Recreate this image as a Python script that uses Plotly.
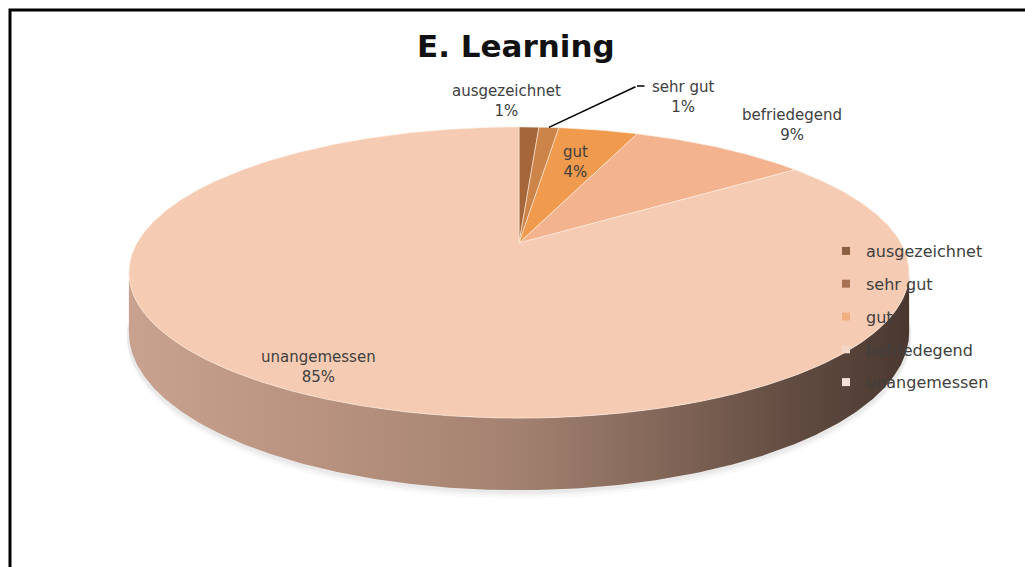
import math
import plotly.graph_objects as go

# ---------------- data ----------------
categories = ["ausgezeichnet", "sehr gut", "gut", "befriedegend", "unangemessen"]
values = [1, 1, 4, 9, 85]
slice_colors = ["#a5663a", "#cc8448", "#ef9a4c", "#f4b38f", "#f6cbb3"]
legend_colors = ["#8c5f43", "#a87256", "#f0b080", "#f5d5c5", "#f3e0da"]
title_text = "E. Learning"

# ---------------- layout / projection constants ----------------
W, H = 1025, 567
X0, Y0 = 519.0, 243.0     # screen position of pie centre
SX, SY = 382.0, 139.6     # screen scale of the disc
K = 0.203                 # perspective strength
DEPTH = 57.4              # disc thickness
FONT = "DejaVu Sans"
TXT = "#404040"


def proj(theta_deg, r=1.0, h=0.0):
    t = math.radians(theta_deg)
    X = r * math.sin(t)
    Z = r * math.cos(t)
    w = 1.0 + K * Z
    return X0 + SX * X / w, Y0 + (-SY * Z + DEPTH * h) / w


def arc(a0, a1, r=1.0, h=0.0, n=None):
    if n is None:
        n = max(4, int(abs(a1 - a0) * 2))
    pts = [proj(a0 + (a1 - a0) * i / n, r, h) for i in range(n + 1)]
    return [p[0] for p in pts], [p[1] for p in pts]


fig = go.Figure()

# soft shadow
tR = math.degrees(math.acos(-K))
tL = 360 - tR
for grow, alpha in [(1.10, 0.025), (1.06, 0.03), (1.03, 0.03)]:
    sx, sy = arc(tR - 4, tL + 4, 1.005, grow, 300)
    fig.add_trace(go.Scatter(x=sx, y=sy, fill="toself", mode="lines",
                             line=dict(width=0, color="rgba(0,0,0,0)"),
                             fillcolor=f"rgba(0,0,0,{alpha})", hoverinfo="skip",
                             showlegend=False))

# side band (front half of the disc)
tx, ty = arc(tR, tL, 1.0, 0.0, 300)
bx, by = arc(tL, tR, 1.0, 1.0, 300)
fig.add_trace(go.Scatter(
    x=tx + bx, y=ty + by, fill="toself", mode="lines",
    line=dict(width=0, color="rgba(0,0,0,0)"),
    fillgradient=dict(type="horizontal",
                      colorscale=[[0.0, "#c8a28e"], [0.25, "#b8927f"],
                                  [0.5, "#a38170"], [0.68, "#836759"],
                                  [0.85, "#624c41"], [1.0, "#4a3830"]]),
    hoverinfo="skip", showlegend=False))

# top face slices
total = float(sum(values))
start = 0.0
mids = []
for cat, val, col in zip(categories, values, slice_colors):
    span = 360.0 * val / total
    ax_, ay_ = arc(start, start + span)
    xs = [X0] + ax_ + [X0]
    ys = [Y0] + ay_ + [Y0]
    fig.add_trace(go.Scatter(x=xs, y=ys, fill="toself", mode="lines",
                             fillcolor=col,
                             line=dict(width=0.8, color="rgba(255,240,230,0.7)"),
                             name=cat, hoverinfo="name", showlegend=False))
    mids.append(start + span / 2)
    start += span

# legend entries
for i, (cat, col) in enumerate(zip(categories, legend_colors)):
    fig.add_trace(go.Scatter(x=[None], y=[None], mode="markers",
                             marker=dict(symbol="square", size=8, color=col),
                             name=cat, legendgroup=f"g{i}", showlegend=True))

# data labels (text positions chosen like Excel's best-fit placement)
label_pos = {
    "ausgezeichnet": (506, 101),
    "sehr gut": (683, 97),
    "gut": None,
    "befriedegend": (792, 125),
    "unangemessen": (318, 367),
}
for cat, val, mid in zip(categories, values, mids):
    txt = f"{cat}<br>{val}%"
    if label_pos[cat] is None:
        lx, ly = proj(mid, 0.68)
    else:
        lx, ly = label_pos[cat]
    fig.add_annotation(x=lx, y=ly, text=txt, showarrow=False,
                       font=dict(family=FONT, size=15, color=TXT),
                       align="center")

# leader line for "sehr gut"
px, py = proj(mids[1], 1.0)
fig.add_annotation(x=px, y=py, ax=637, ay=86, axref="x", ayref="y",
                   text="", showarrow=True, arrowhead=0, arrowwidth=1.5,
                   arrowcolor="#000000")
fig.add_annotation(x=637, y=86, ax=646, ay=86, axref="x", ayref="y",
                   text="", showarrow=True, arrowhead=0, arrowwidth=1.5,
                   arrowcolor="#000000")

# title
fig.add_annotation(x=516, y=46, text=f"<b>{title_text}</b>", showarrow=False,
                   font=dict(family=FONT, size=31, color="#111111"))

# frame
fig.add_shape(type="rect", xref="paper", yref="paper",
              x0=10 / W, x1=1.02, y0=-0.02, y1=1 - 10 / H,
              line=dict(color="#000000", width=3))

fig.update_layout(
    width=W, height=H,
    margin=dict(l=0, r=0, t=0, b=0),
    paper_bgcolor="white", plot_bgcolor="white",
    xaxis=dict(range=[0, W], visible=False, fixedrange=True),
    yaxis=dict(range=[H, 0], visible=False, fixedrange=True),
    showlegend=True,
    legend=dict(x=826 / W, y=1 - 234 / H, xanchor="left", yanchor="top",
                bgcolor="rgba(0,0,0,0)", traceorder="grouped",
                tracegroupgap=9, itemwidth=30,
                font=dict(family=FONT, size=16, color=TXT)),
)

fig.write_html("out.html",
               config={"displayModeBar": False},
               post_script="document.body.style.margin='0px';document.body.style.overflow='hidden';")
